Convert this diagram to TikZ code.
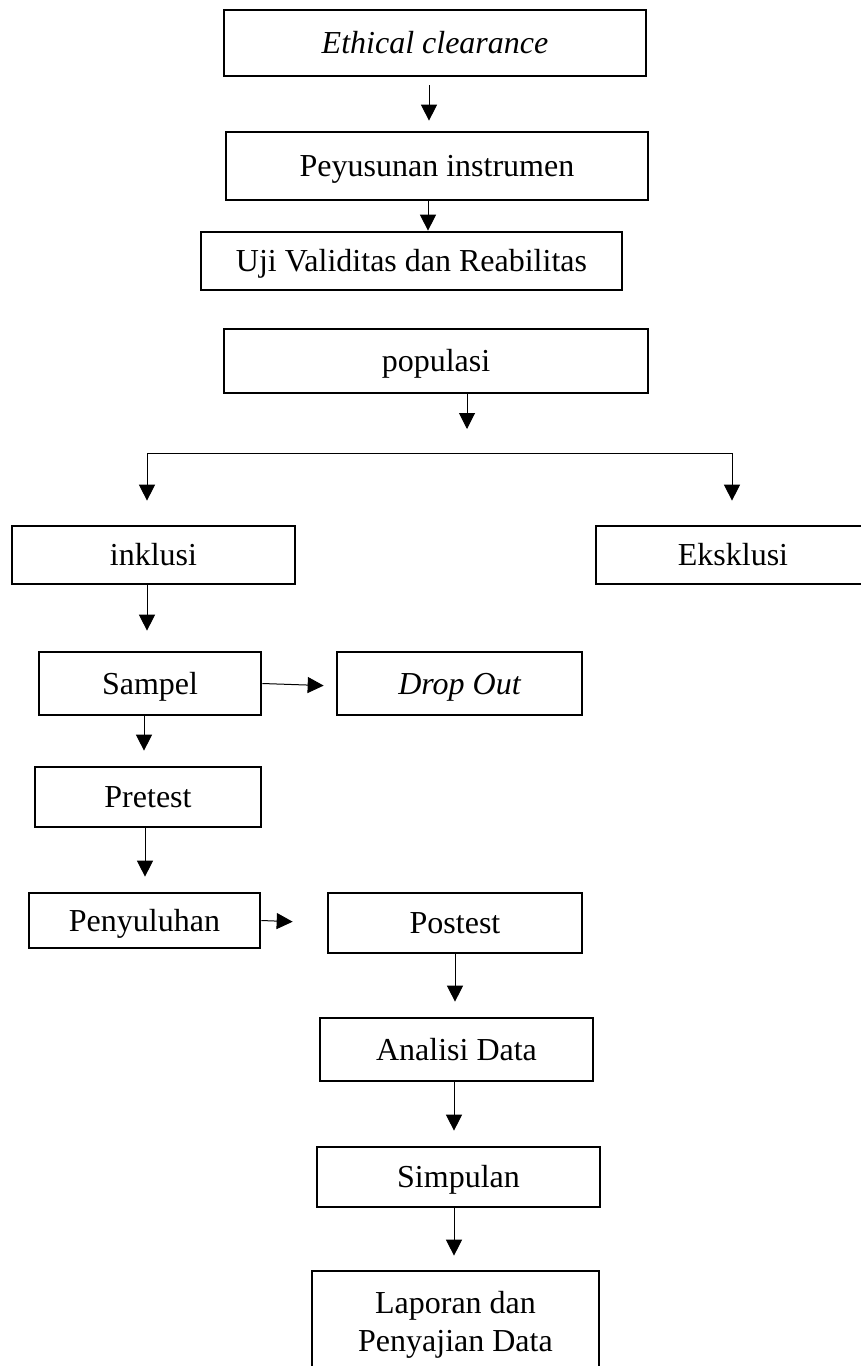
\documentclass[tikz,border=0pt]{standalone}
\usepackage{fontspec}
\setmainfont{Liberation Serif}
\usetikzlibrary{arrows.meta}

\begin{document}
\begin{tikzpicture}[x=1pt,y=-1pt,line width=1pt,
            every node/.style={inner sep=0pt,font=\fontsize{32}{38}\selectfont},
            garis/.style={draw,line width=2.7pt},
            kotak/.style={garis,text height=24pt,text depth=3pt},
            >={Triangle[width=16pt,length=16pt]}]
            \useasboundingbox (0,0) rectangle (860,1366);
            % kotak-kotak
            \node[kotak,minimum width=422pt,minimum height=66pt](eth) at (435,43){\itshape Ethical clearance};
            \node[kotak,minimum width=422pt,minimum height=68pt](pey) at (437,166){Peyusunan instrumen};
            \node[kotak,minimum width=421pt,minimum height=58pt](uji) at (411.5,261){Uji Validitas dan Reabilitas};
            \node[kotak,minimum width=424pt,minimum height=64pt](pop) at (436,361){populasi};
            \node[kotak,minimum width=283pt,minimum height=58pt](ink) at (153.5,555){inklusi};
            \node[kotak,minimum width=274pt,minimum height=58pt](eks) at (733,555){Eksklusi};
            \node[kotak,minimum width=222pt,minimum height=63pt](smp) at (150,683.5){Sampel};
            \node[kotak,minimum width=245pt,minimum height=63pt](drop) at (459.5,683.5){\itshape Drop Out};
            \node[kotak,minimum width=226pt,minimum height=60pt](pre) at (148,797){Pretest};
            \node[kotak,minimum width=231pt,minimum height=55pt](pen) at (144.5,920.5){Penyuluhan};
            \node[kotak,minimum width=254pt,minimum height=60pt](post) at (455,923){Postest};
            \node[kotak,minimum width=273pt,minimum height=63pt](ana) at (456.5,1049.5){Analisi Data};
            \node[kotak,minimum width=283pt,minimum height=60pt](sim) at (458.5,1177){Simpulan};
            \node[garis,align=center,minimum width=287pt,minimum height=108pt](lap) at (455.5,1325){Laporan dan\\Penyajian Data};
            % percabangan
            \coordinate (popend) at (467,429);
            \coordinate (kiri) at (147,453);
            \coordinate (kanan) at (732,453);
            % panah
            \draw[->,shorten <=8pt,shorten >=10pt]([xshift=-6pt]eth.south)--([xshift=-8pt]pey.north);
            \draw[->]([xshift=-9pt]pey.south)--([xshift=16.5pt]uji.north);
            \draw[->]([xshift=31pt]pop.south)--(popend);
            \draw(kiri)--(kanan);
            \draw[->,shorten >=24pt](kiri)--(kiri|-ink.north);
            \draw[->,shorten >=24pt](kanan)--(kanan|-eks.north);
            \draw[->,shorten >=20pt]([xshift=-6.5pt]ink.south)--([xshift=-3pt]smp.north);
            \draw[->,shorten >=12pt](smp.east)--([yshift=-2.5pt]drop.west);
            \draw[->,shorten >=15pt]([xshift=-6pt]smp.south)--([xshift=-4pt]pre.north);
            \draw[->,shorten >=15pt]([xshift=-3pt]pre.south)--([xshift=0.5pt]pen.north);
            \draw[->,shorten >=34pt](pen.east)--(post.west);
            \draw[->,shorten >=15pt](post.south)--([xshift=-1.5pt]ana.north);
            \draw[->,shorten >=15pt]([xshift=-2.5pt]ana.south)--([xshift=-4.5pt]sim.north);
            \draw[->,shorten >=14pt]([xshift=-4.5pt]sim.south)--([xshift=-1.5pt]lap.north);
          \end{tikzpicture}
\end{document}
